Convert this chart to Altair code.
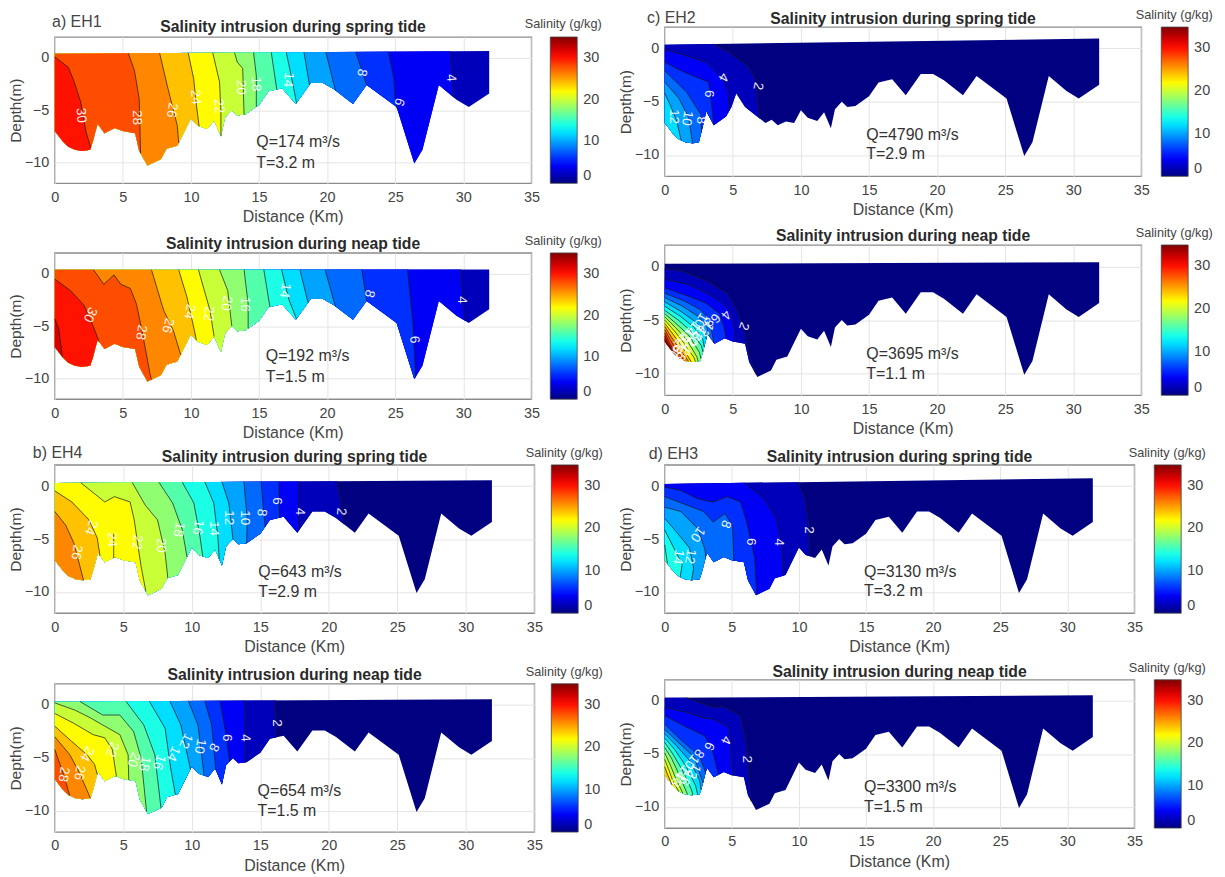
import altair as alt
import numpy as np
import pandas as pd

FONT = "Liberation Sans"
BED_COMMON = [(0,-7),(0.3,-7.5),(0.6,-8),(1,-8.5),(1.5,-8.8),(2,-8.9),(2.6,-8.8),(2.8,-8.0),(3.0,-7.0),(3.15,-6.3),(3.65,-7.2),(4.4,-6.7),(5,-7),(5.9,-7.2),(6.2,-8.9),(6.8,-10.3),(7.8,-9.7),(8.2,-8.7),(9,-8.4),(10,-5.8),(10.5,-6.5),(11.2,-6.8),(11.7,-6),(12.2,-7.5),(12.5,-5.7),(13,-5),(13.4,-5.5),(14,-5.4),(15,-4.5),(15.7,-3.2),(16.7,-2.9),(17.7,-4.4),(18.8,-2.4),(19.7,-2.4),(20.5,-3),(21.9,-4.4),(22.9,-2.6),(25.1,-4.7),(26.4,-10.1),(27,-8.8),(28.2,-2.6),(29.5,-4),(30.4,-4.7),(31.9,-3.4)]
BED_C_HEAD = [(0,-7),(0.3,-7.5),(0.6,-8),(1,-8.5),(1.5,-8.8),(2,-8.9),(2.5,-8.85),(2.8,-7.3),(3.05,-5.9),(3.6,-7.2),(4.5,-6.4),(4.9,-5.5),(5.25,-4.2),(5.9,-5.5),(6.9,-6.5),(7.4,-7),(7.85,-6.7),(8.3,-7.2),(8.9,-6.85),(9.5,-7)]
BED_C = BED_C_HEAD + [p for p in BED_COMMON if p[0] >= 10]

JET_DOMAIN = [0, 4.375, 8.75, 13.125, 17.5, 21.875, 26.25, 30.625, 35]
JET_RANGE = ["#000080","#0000ff","#0080ff","#00ffff","#80ff80","#ffff00","#ff8000","#ff0000","#800000"]

A_LINES = {
 4:[(29.05,),(29.2,-1.7),(29.3,)],
 6:[(24.5,),(24.9,-2),(25.0,-4.0),(25.15,)],
 8:[(22.1,),(22.5,-1),(22.9,)],
 10:[(19.9,),(20.3,-1.5),(20.6,)],
 12:[(18.3,),(18.7,)],
 14:[(17,),(17.5,-2.6),(17.75,)],
 16:[(15.9,),(16.3,)],
 18:[(14.6,),(14.8,-1.7),(14.8,)],
 20:[(13.2,),(13.4,-.4),(13.8,-1),(13.9,)],
 22:[(11.6,),(12.1,-2.3),(12.2,-5.2),(12.2,)],
 24:[(9.8,),(10.2,-2),(10.4,-4.5),(10.6,)],
 26:[(7.7,),(8.25,-2.6),(9,-6.5),(9.1,)],
 28:[(5.4,),(5.85,-1.2),(6.2,-3.9),(6.3,)],
 30:[(0,0.1),(.5,-.4),(1,-.9),(1.4,-2.2),(1.9,-4.2),(2.3,-7.1),(2.65,)],
}
A_TEXT = [(1.93,-5.5,"30",85),(6.05,-5.7,"28",90),(8.6,-5,"26",100),(10.35,-3.75,"24",85),(12.05,-4.6,"22",85),(13.65,-2.8,"20",90),(14.75,-2.5,"18",90),(17.15,-2.1,"14",95),(22.55,-1.4,"8",100),(25.3,-4.2,"6",110),(29.1,-1.9,"4",85)]

A2_LINES = {
 4:[(29.8,),(30.1,)],
 6:[(25.9,),(26.3,-4.8),(26.5,)],
 8:[(22.55,),(22.9,)],
 10:[(19.85,),(20.6,)],
 12:[(18,),(18.6,)],
 14:[(16.65,),(17.2,-2.5),(17.75,)],
 16:[(15.35,),(15.8,)],
 18:[(13.9,),(14.2,-2.9),(14.2,)],
 20:[(12.1,),(12.7,-1.6),(13,)],
 22:[(10.55,),(11.4,-3.5),(11.7,)],
 24:[(9.1,),(9.7,-2.2),(10.25,-5.4),(10.4,)],
 26:[(7.1,),(8,-3.5),(8.7,-5.4),(9.25,)],
 28:[(2.85,),(3.6,-1),(4.35,-.1),(4.85,-1),(5.55,-1.4),(6,-2.9),(6.4,-5.4),(7,-9.6),(7.1,)],
 30:[(0,-.5),(1.15,-1.6),(2.15,-3),(2.85,-5.1),(3.25,)],
 32:[(0,-4.3),(.3,-5.3),(.55,)],
}
A2_TEXT = [(2.6,-3.9,"30",115),(6.35,-5.6,"28",100),(8.3,-4.95,"26",105),(9.9,-3.6,"24",100),(11.3,-3.8,"22",95),(12.6,-2.8,"20",100),(13.95,-2.9,"16",90),(16.9,-1.6,"14",100),(23.1,-1.9,"8",105),(26.4,-6.3,"6",85),(29.9,-2.5,"4",90)]

B_LINES = {
 2:[(20.6,),(20.9,-1.6),(21.1,)],
 4:[(17.8,),(17.8,)],
 6:[(16.35,),(16.4,)],
 8:[(15.05,),(15.35,)],
 10:[(13.8,),(14.05,-3.2),(14,)],
 12:[(12.2,),(12.7,-1.6),(13,)],
 14:[(10.95,),(11.6,-1.6),(11.9,-4.75),(12,)],
 16:[(9.3,),(10.15,-1.6),(10.6,-4.8),(10.8,)],
 18:[(7.6,),(8.6,-1.6),(9.3,-4.1),(9.65,)],
 20:[(5.65,),(6.6,-1.8),(7.5,-3.2),(8.05,-6.3),(8.25,)],
 22:[(1.9,),(3.65,-1.5),(4.35,-1),(5.5,-1.5),(5.8,-3.2),(6,-5),(6.3,-7.6),(6.65,)],
 24:[(0,-.45),(1.25,-1.5),(2.5,-3.2),(3.1,-4.9),(3.3,)],
 26:[(0,-2.4),(.8,-3.7),(1.4,-5.4),(2.1,)],
}
B_EXTRA = [[(4.3,-4.5),(4.3,-6.8)]]
B_TEXT = [(2.65,-3.9,"24",110),(1.6,-6.25,"26",100),(4.2,-5.05,"24",90),(6,-5.3,"22",95),(7.75,-5.6,"20",90),(9.05,-4.1,"18",100),(10.45,-3.9,"16",100),(11.65,-4,"14",90),(12.7,-3,"12",90),(13.85,-3,"10",90),(15.1,-2.5,"8",95),(16.25,-1.4,"6",90),(17.9,-2.4,"4",90),(20.9,-2.4,"2",95)]

B2_LINES = {
 2:[(16.1,),(16.15,)],
 4:[(13.85,),(13.9,)],
 6:[(12.05,),(12.5,-2.8),(12.75,)],
 8:[(10.95,),(11.45,-1.9),(11.75,)],
 10:[(9.75,),(10.45,-1.9),(10.9,)],
 12:[(8.4,),(9.2,-1.9),(9.9,)],
 14:[(6.9,),(8.05,-2.2),(8.45,-5.9),(8.8,)],
 16:[(5.2,),(6.5,-1.9),(7.3,-4.7),(7.75,)],
 18:[(1.85,),(3.5,-.95),(4.75,-.95),(5.75,-2.5),(6.3,-5),(6.7,)],
 20:[(0,.2),(1.5,-.5),(2.65,-1.25),(3.65,-2),(4.75,-2.8),(5.35,-4.7),(5.4,)],
 22:[(0,-.8),(1.35,-1.7),(2.8,-2.8),(3.65,-3.1),(4.2,-4.2),(4.5,)],
 24:[(0,-2),(1.2,-3.4),(2.35,-4.7),(2.9,-5.6),(3.1,)],
 26:[(0,-3),(1.1,-4.7),(1.8,-6.4),(2.6,)],
 28:[(0,-4.2),(.65,-6.6),(1.1,)],
}
B2_TEXT = [(.65,-6.55,"28",100),(1.8,-6.4,"26",100),(2.35,-4.6,"24",120),(4.2,-4.2,"22",110),(5.75,-5.15,"20",110),(6.55,-5.55,"18",100),(7.6,-5.4,"16",110),(8.65,-4.6,"14",115),(9.55,-3.4,"12",115),(10.6,-3.9,"10",100),(11.6,-4,"8",115),(12.55,-3.1,"6",90),(13.9,-3.1,"4",85),(16.2,-1.7,"2",90)]

C_LINES = {
 2:[(3.55,),(4.8,-.4),(6.05,-1.6),(6.65,-2.8),(7,)],
 4:[(0,-.1),(1.1,-.5),(3.05,-1.3),(4.2,-2.7),(4.65,-4),(4.75,)],
 6:[(0,-1.3),(1.35,-2.2),(3.2,-3.15),(3.35,-4.2),(3.6,)],
 8:[(0,-2.1),(1.6,-4.1),(2.65,-6.2),(2.7,)],
 10:[(0,-3.15),(1.05,-4.7),(1.75,-6.5),(2.05,)],
 12:[(0,-4.2),(.5,-5.6),(.9,-6.9),(1.2,)],
}
C_TEXT = [(4.3,-2.7,"4",120),(6.85,-3.55,"2",100),(3.25,-4.25,"6",90),(.65,-6.4,"12",90),(1.65,-6.55,"10",100),(2.65,-6.75,"8",90)]

C2_LINES = {
 2:[(0,-.2),(1.2,-.4),(3.05,-1.3),(4.6,-2.5),(5.35,-4.1),(5.9,-6.4),(6.2,-8.2),(6.7,)],
 4:[(0,-1.2),(1.8,-1.7),(3.1,-2.5),(4.1,-3.3),(4.85,-4.2),(5.1,-5.7),(5.2,)],
 6:[(0,-2),(1.8,-2.8),(3,-3.4),(4,-4.35),(4.35,-5.6),(4.5,)],
 8:[(0,-2.5),(1.4,-3.2),(2.6,-4),(3.3,-5),(3.6,)],
 10:[(0,-2.9),(1.3,-3.7),(2.5,-4.7),(3.1,-5.7),(3.25,)],
 12:[(0,-3.3),(1.2,-4.2),(2.3,-5.2),(2.95,-6.2),(3.05,)],
 14:[(0,-3.7),(1.1,-4.6),(2.1,-5.6),(2.8,-6.8),(2.9,)],
 16:[(0,-4.1),(1,-5),(1.9,-6),(2.7,-7.4),(2.8,)],
 18:[(0,-4.4),(.9,-5.4),(1.75,-6.4),(2.55,-8),(2.65,)],
 20:[(0,-4.7),(.8,-5.7),(1.6,-6.8),(2.35,-8.4),(2.45,)],
 22:[(0,-5),(.7,-6),(1.45,-7.2),(2.15,-8.5),(2.25,)],
 24:[(0,-5.3),(.6,-6.3),(1.3,-7.5),(1.95,)],
 26:[(0,-5.6),(.5,-6.6),(1.1,-7.7),(1.75,)],
 28:[(0,-5.9),(.4,-6.8),(.9,-7.9),(1.45,)],
 30:[(0,-6.2),(.3,-7),(.7,-7.9),(1.15,)],
 32:[(0,-6.5),(.2,-7.1),(.8,)],
 34:[(0,-6.8),(.45,)],
}
C2_TEXT = [(5.8,-5.55,"2",110),(4.5,-4.5,"4",130),(3.7,-4.8,"6",130),(3.2,-5.15,"8",130),(2.65,-5,"10",120),(3.05,-5.8,"12",130),(2.05,-5.8,"14",130),(2.5,-6.2,"16",130),(1.65,-6.4,"18",130),(2.2,-6.7,"20",130),(1.2,-6.85,"22",130),(1.75,-7.3,"24",130),(1.05,-7.45,"26",130),(1.35,-8.1,"28",130),(.75,-7.95,"30",130)]

D_LINES = {
 2:[(9.95,),(10.45,-1.2),(10.75,-3.7),(10.8,)],
 4:[(5.95,),(7.4,-1.2),(8.3,-3.05),(8.7,-5.55),(8.85,)],
 6:[(0,-.1),(1.15,-.4),(2.45,-1.2),(3.6,-1.5),(4.65,-1),(5.65,-1.5),(6.1,-3.4),(6.7,-6.8),(6.85,)],
 8:[(0,-1),(1.45,-1.7),(2.9,-2.4),(3.6,-3.4),(4.5,-2.6),(5.05,-3.8),(5.15,)],
 10:[(0,-2),(1.2,-2.4),(2.45,-4),(3,-6),(3.05,)],
 12:[(0,-3.05),(.85,-4.3),(1.85,-5.85),(2.15,-7.75),(2,)],
 14:[(0,-4.15),(.7,-5.9),(1.3,-7.4),(1.15,)],
 16:[(0,-5.55),(.2,)],
}
D_TEXT = [(10.75,-4.15,"2",90),(8.5,-5.3,"4",90),(6.4,-5.25,"6",90),(4.55,-3.6,"8",110),(2.45,-4.55,"10",125),(1.9,-6.65,"12",100),(1,-6.7,"14",100)]

D2_LINES = {
 2:[(1.6,),(3.6,-.6),(4.35,-.5),(5.65,-1.4),(6.1,-4.2),(6.45,)],
 4:[(0,-.6),(1.7,-1.1),(2.9,-1.6),(3.6,-1.7),(4.8,-2.5),(5.05,)],
 6:[(0,-1.4),(1.45,-2.35),(3,-3.3),(3.6,-4.9),(4,)],
 8:[(0,-2.2),(1.15,-3.6),(2.6,-5.2),(3.05,)],
 10:[(0,-2.7),(1,-3.9),(2.2,-5.3),(2.85,)],
 12:[(0,-3.1),(.85,-4.2),(1.9,-5.7),(2.6,-7.5),(2.7,)],
 14:[(0,-3.5),(.75,-4.6),(1.6,-6.2),(2.3,-8),(2.45,)],
 16:[(0,-3.9),(.6,-5),(1.3,-6.5),(2,-8.4),(2.1,)],
 18:[(0,-4.4),(.5,-5.4),(1.05,-6.9),(1.7,)],
 20:[(0,-4.9),(.4,-6),(.85,-7.4),(1.35,)],
 22:[(0,-5.5),(.3,-6.5),(.65,-7.7),(1.05,)],
 24:[(0,-6.2),(.2,-6.9),(.55,)],
}
D2_TEXT = [(6.15,-5.5,"2",90),(4.55,-3.7,"4",115),(3.3,-4.25,"6",115),(2.55,-4.95,"8",125),(2,-5.75,"10",130),(2.15,-6.6,"12",120),(1.3,-6.75,"14",130),(1.6,-7.25,"16",120),(1,-7.4,"18",130)]

SPRING = "Salinity intrusion during spring tide"
NEAP = "Salinity intrusion during neap tide"
XLABEL = "Distance (Km)"

def panel(lines, text, base, surf, title, title_y, q, t, qx, qy, ty, plot, cell, legend_x, bed=BED_COMMON,
          tag=None, tag_xy=None, extra=None, header_px=0, header_gap=0):
    L, R, T, B = plot
    cL, cR, cT, cB = cell
    w, h = R - L, B - T
    bx = np.array([p[0] for p in bed], float)
    bd = np.array([p[1] for p in bed], float)
    surface = lambda x: surf[0] + (surf[1] - surf[0]) * x / 31.9

    def resolve(pts):
        out = []
        for i, p in enumerate(pts):
            if len(p) == 2:
                out.append(p)
            elif i == 0:
                out.append((p[0], surface(p[0])))
            else:
                out.append((p[0], float(np.interp(p[0], bx, bd))))
        return out

    poly_rows, line_rows = [], []
    def add_poly(idx, level, pts):
        for k, (x, d) in enumerate(pts):
            poly_rows.append(dict(id=f"p{idx:02d}", s=level, k=k, x=x, d=d))

    outline = [(0, surf[0]), (31.9, surf[1])] + [(x, d) for x, d in zip(bx[::-1], bd[::-1])]
    add_poly(0, base, outline)
    for n, level in enumerate(sorted(lines)):
        pts = resolve(lines[level])
        xe = pts[-1][0]
        back = [(x, d) for x, d in zip(bx[::-1], bd[::-1]) if x < xe]
        head = [(0, surf[0])] if pts[0][0] > 0 else []
        add_poly(n + 1, level, head + pts + back)
        for k, (x, d) in enumerate(pts):
            line_rows.append(dict(id=f"l{level}", k=k, x=x, d=d))
    for n, seg in enumerate(extra or []):
        for k, (x, d) in enumerate(seg):
            line_rows.append(dict(id=f"e{n}", k=k, x=x, d=d))

    X = alt.X("x:Q", scale=alt.Scale(domain=[0, 35], nice=False), axis=alt.Axis(
        values=[0, 5, 10, 15, 20, 25, 30, 35], title=None, grid=True, gridColor="#e4e4e4", gridWidth=1,
        ticks=False, domain=False, labelFontSize=14.5, labelColor="#444",
        labelFont=FONT, labelPadding=7, labelFlush=False))
    Y = alt.Y("d:Q", scale=alt.Scale(domain=[-12, 2], nice=False), axis=alt.Axis(
        values=[-10, -5, 0], title="Depth(m)", grid=True, gridColor="#e4e4e4", gridWidth=1,
        ticks=False, domain=False, labelFontSize=14.5, titleFontSize=15.5, labelColor="#444", titleColor="#444",
        labelFont=FONT, titleFont=FONT, titleFontWeight="normal", labelPadding=6, titlePadding=1, labelFlush=False))

    fills = alt.Chart(pd.DataFrame(poly_rows)).mark_line(filled=True, strokeWidth=0, interpolate="linear").encode(
        x=X, y=Y, detail="id:N", order="k:Q",
        fill=alt.Fill("s:Q", scale=alt.Scale(domain=JET_DOMAIN, range=JET_RANGE, interpolate="rgb"),
                      legend=alt.Legend(title=None, orient="none", legendX=legend_x - L, legendY=0,
                                        gradientLength=h, gradientThickness=27, gradientStrokeColor="#444",
                                        gradientStrokeWidth=0.8, values=[0, 10, 20, 30], labelFontSize=14.5,
                                        labelFont=FONT, labelColor="#444", labelOffset=6, tickCount=4)))
    contour = alt.Chart(pd.DataFrame(line_rows)).mark_line(color="#1a1a1a", strokeWidth=0.9, opacity=0.8).encode(
        x=X, y=Y, detail="id:N", order="k:Q")
    labels = alt.Chart(pd.DataFrame([dict(x=a, d=b, t=c, r=e) for a, b, c, e in text])).mark_text(
        color="#ffffff", fontSize=13.5, font=FONT, opacity=0.92).encode(
        x=X, y=Y, text="t:N", angle=alt.Angle("r:Q", scale=None))

    notes = [dict(x=qx, d=qy, t=q), dict(x=qx, d=ty, t=t)]
    note = alt.Chart(pd.DataFrame(notes)).mark_text(align="left", baseline="middle", fontSize=16, font=FONT, color="#333").encode(
        x=X, y=Y, text="t:N")
    xlab = alt.Chart(pd.DataFrame([dict(x=17.5, d=-12 - 34 / h * 14, t=XLABEL)])).mark_text(
        fontSize=16, font=FONT, color="#444", baseline="middle").encode(x=X, y=Y, text="t:N")

    def top_texts(xe, ye, dy=0.0):
        out = [alt.Chart(pd.DataFrame([dict(x=17.5, d=title_y - dy, t=title)])).mark_text(
                   fontSize=15.8, fontWeight="bold", font=FONT, color="#2a2a2a", baseline="middle").encode(x=xe, y=ye, text="t:N"),
               alt.Chart(pd.DataFrame([dict(x=(legend_x + 13 - L) / w * 35, d=2 + 12 / h * 14 - dy, t="Salinity (g/kg)")])).mark_text(
                   fontSize=12.8, font=FONT, color="#444", baseline="middle").encode(x=xe, y=ye, text="t:N")]
        if tag:
            out.append(alt.Chart(pd.DataFrame([dict(x=tag_xy[0], d=tag_xy[1] - dy, t=tag)])).mark_text(
                align="left", baseline="middle", fontSize=16, font=FONT, color="#444").encode(x=xe, y=ye, text="t:N"))
        return out

    layers = [fills, contour, labels, note, xlab]
    header = None
    if header_px:
        Xh = alt.X("x:Q", scale=alt.Scale(domain=[0, 35], nice=False), axis=None)
        Yh = alt.Y("d:Q", scale=alt.Scale(domain=[2, 2 + header_px / h * 14], nice=False), axis=None)
        header = alt.layer(*top_texts(Xh, Yh, header_gap / h * 14)).properties(width=w, height=header_px, view=alt.ViewConfig(stroke=None))
    else:
        layers += top_texts(X, Y)
    # invisible corners that hold the cell of this panel to its place on the page
    corners = pd.DataFrame([
        dict(x=(cL - L) / w * 35, d=2 + (T - cT) / h * 14),
        dict(x=(cR - L) / w * 35, d=-12 - (cB - B) / h * 14)])
    layers.append(alt.Chart(corners).mark_point(opacity=0, size=1, strokeWidth=0, filled=True).encode(x=X, y=Y))
    body = alt.layer(*layers).resolve_scale(fill="shared").properties(width=w, height=h)
    return (header, body) if header_px else body

LC = (8, 610)
RC = (610, 1216)
a_head, a = panel(A_LINES, A_TEXT, 2, (0.4, 0.65), SPRING, 2.85, "Q=174 m³/s", "T=3.2 m", 14.8, -8.08, -10.06,
          (54, 533, 37, 184), (*LC, 37, 232), 552, tag="a) EH1", tag_xy=(-0.2, 3.3), header_px=6, header_gap=3)
a2 = panel(A2_LINES, A2_TEXT, 2, (0.38, 0.42), NEAP, 2.85, "Q=192 m³/s", "T=1.5 m", 15.5, -7.9, -9.85,
           (54, 533, 254, 401), (*LC, 236, 443), 552)
b = panel(B_LINES, B_TEXT, 0, (0.3, 0.55), SPRING, 2.75, "Q=643 m³/s", "T=2.9 m", 14.85, -8.1, -10,
          (54, 536, 465, 614), (*LC, 445, 657), 553, tag="b) EH4", tag_xy=(-1.6, 3.1), extra=B_EXTRA)
b2 = panel(B2_LINES, B2_TEXT, 0, (0.3, 0.55), NEAP, 2.85, "Q=654 m³/s", "T=1.5 m", 14.8, -8.1, -10,
           (54, 536, 684, 833), (*LC, 660, 874), 553)
c = panel(C_LINES, C_TEXT, 0, (0.35, 0.93), SPRING, 2.75, "Q=4790 m³/s", "T=2.9 m", 14.8, -8.1, -9.95,
          (663, 1142, 25, 175), (*RC, 8, 219), 1162, bed=BED_C, tag="c) EH2", tag_xy=(-1.3, 2.85))
c2 = panel(C2_LINES, C2_TEXT, 0, (0.25, 0.4), NEAP, 2.85, "Q=3695 m³/s", "T=1.1 m", 14.8, -8.2, -10,
           (663, 1142, 243, 394), (*RC, 222, 437), 1162)
d = panel(D_LINES, D_TEXT, 0, (0.2, 0.75), SPRING, 2.75, "Q=3130 m³/s", "T=3.2 m", 14.85, -8.1, -9.95,
          (663, 1135, 463, 612), (*RC, 440, 654), 1155, tag="d) EH3", tag_xy=(-1.2, 3))
d2 = panel(D2_LINES, D2_TEXT, 0, (0.3, 0.55), NEAP, 2.75, "Q=3300 m³/s", "T=1.5 m", 14.85, -8.1, -10,
           (663, 1135, 679, 828), (*RC, 658, 874), 1155)

def column(*charts):
    return alt.concat(*charts, columns=1, spacing=0, align="none").resolve_scale(fill="independent").resolve_legend(fill="independent")

PAD = {"left": -1, "top": -2, "right": 0, "bottom": 0}
chart = alt.concat(column(a_head, a, a2, b, b2), column(c, c2, d, d2), columns=2, spacing=0, align="none").resolve_scale(
    fill="independent").resolve_legend(fill="independent").properties(padding=PAD).configure_view(stroke="#8c8c8c", strokeWidth=1.4)
chart.save("out.html", embed_options={"renderer": "svg", "actions": False})
